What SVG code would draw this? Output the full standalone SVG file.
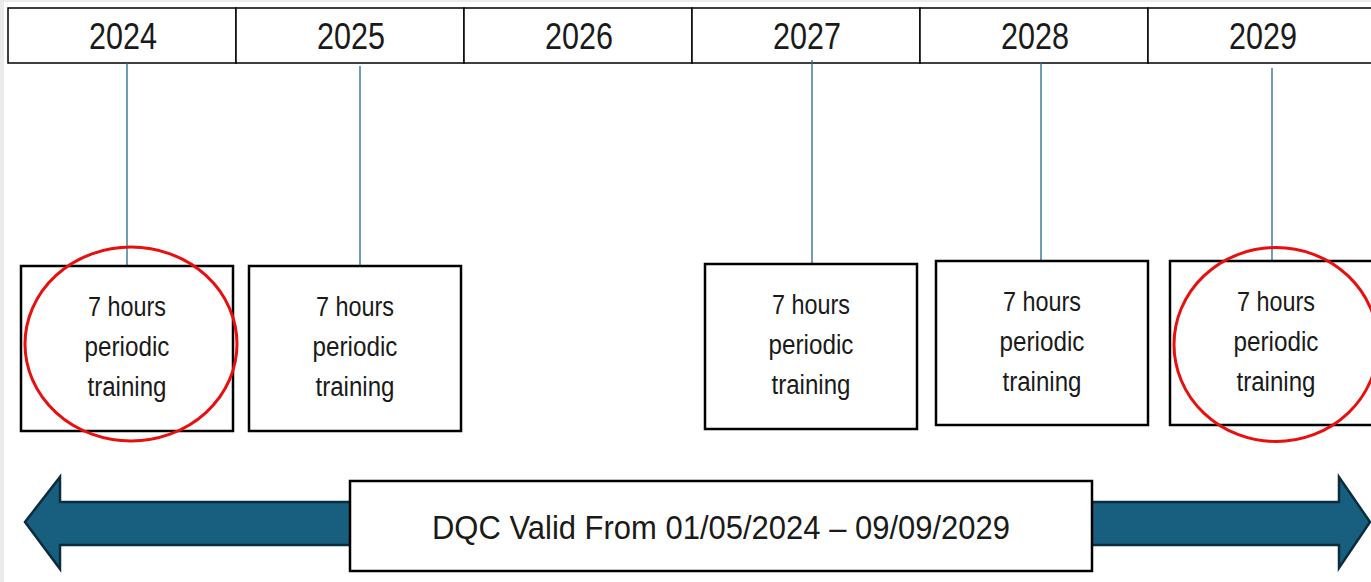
<svg xmlns="http://www.w3.org/2000/svg" width="1371" height="582" viewBox="0 0 1371 582">
<style>
.yr{font-family:"Liberation Sans",Arial,sans-serif;font-size:37px;fill:#1a1a1a;text-anchor:middle}
.bx{fill:#fff;stroke:#000;stroke-width:2.5}
.bt{font-family:"Liberation Sans",Arial,sans-serif;font-size:27px;fill:#1a1a1a;text-anchor:middle}
.con{stroke:#1f6a94;stroke-width:1.3;fill:none}
.ring{fill:none;stroke:#e8100f;stroke-width:3}
.cell{fill:#fff;stroke:#000;stroke-width:1.5}
</style>
<rect x="0" y="0" width="1371" height="582" fill="#fff"/>
<rect x="0" y="0" width="4" height="582" fill="#ebebeb"/>
<rect x="4" y="0" width="1367" height="2" fill="#ececec"/>
<g id="timeline">
<rect class="cell" x="8" y="8" width="228" height="55"/>
<rect class="cell" x="236" y="8" width="228" height="55"/>
<rect class="cell" x="464" y="8" width="228" height="55"/>
<rect class="cell" x="692" y="8" width="228" height="55"/>
<rect class="cell" x="920" y="8" width="228" height="55"/>
<rect class="cell" x="1148" y="8" width="240" height="55"/>
<text class="yr" x="123" y="49" textLength="68" lengthAdjust="spacingAndGlyphs">2024</text>
<text class="yr" x="351" y="49" textLength="68" lengthAdjust="spacingAndGlyphs">2025</text>
<text class="yr" x="579" y="49" textLength="68" lengthAdjust="spacingAndGlyphs">2026</text>
<text class="yr" x="807" y="49" textLength="68" lengthAdjust="spacingAndGlyphs">2027</text>
<text class="yr" x="1035" y="49" textLength="68" lengthAdjust="spacingAndGlyphs">2028</text>
<text class="yr" x="1263" y="49" textLength="68" lengthAdjust="spacingAndGlyphs">2029</text>
</g>
<g id="connectors">
<line class="con" x1="127" y1="63" x2="127" y2="266"/>
<line class="con" x1="360" y1="66" x2="360" y2="266"/>
<line class="con" x1="812" y1="60" x2="812" y2="264"/>
<line class="con" x1="1041" y1="62" x2="1041" y2="261"/>
<line class="con" x1="1272" y1="68" x2="1272" y2="270"/>
</g>
<g id="box2024">
<rect class="bx" x="21" y="266" width="212" height="165"/>
<text class="bt" x="127" y="316" textLength="78" lengthAdjust="spacingAndGlyphs">7 hours</text>
<text class="bt" x="127" y="356" textLength="85" lengthAdjust="spacingAndGlyphs">periodic</text>
<text class="bt" x="127" y="396" textLength="79" lengthAdjust="spacingAndGlyphs">training</text>
</g>
<g id="box2025">
<rect class="bx" x="249" y="266" width="212" height="165"/>
<text class="bt" x="355" y="316" textLength="78" lengthAdjust="spacingAndGlyphs">7 hours</text>
<text class="bt" x="355" y="356" textLength="85" lengthAdjust="spacingAndGlyphs">periodic</text>
<text class="bt" x="355" y="396" textLength="79" lengthAdjust="spacingAndGlyphs">training</text>
</g>
<g id="box2027">
<rect class="bx" x="705" y="264" width="212" height="165"/>
<text class="bt" x="811" y="314" textLength="78" lengthAdjust="spacingAndGlyphs">7 hours</text>
<text class="bt" x="811" y="354" textLength="85" lengthAdjust="spacingAndGlyphs">periodic</text>
<text class="bt" x="811" y="394" textLength="79" lengthAdjust="spacingAndGlyphs">training</text>
</g>
<g id="box2028">
<rect class="bx" x="936" y="261" width="212" height="164"/>
<text class="bt" x="1042" y="311" textLength="78" lengthAdjust="spacingAndGlyphs">7 hours</text>
<text class="bt" x="1042" y="351" textLength="85" lengthAdjust="spacingAndGlyphs">periodic</text>
<text class="bt" x="1042" y="391" textLength="79" lengthAdjust="spacingAndGlyphs">training</text>
</g>
<g id="box2029">
<rect class="bx" x="1170" y="261" width="212" height="164"/>
<text class="bt" x="1276" y="311" textLength="78" lengthAdjust="spacingAndGlyphs">7 hours</text>
<text class="bt" x="1276" y="351" textLength="85" lengthAdjust="spacingAndGlyphs">periodic</text>
<text class="bt" x="1276" y="391" textLength="79" lengthAdjust="spacingAndGlyphs">training</text>
</g>
<g id="highlights">
<ellipse class="ring" cx="131" cy="344" rx="106" ry="97"/>
<ellipse class="ring" cx="1276" cy="344.5" rx="102" ry="97"/>
</g>
<g id="validity">
<path d="M25 522 L60 477 L60 502 L1339 502 L1339 477 L1370 522 L1339 568 L1339 545 L60 545 L60 569 Z" fill="#175e7f" stroke="#0b2c3d" stroke-width="2.5" stroke-linejoin="miter"/>
<rect x="350" y="481" width="742" height="90" fill="#fff" stroke="#000" stroke-width="2.5"/>
<text x="721" y="539" font-family="Liberation Sans,Arial,sans-serif" font-size="33" fill="#1a1a1a" text-anchor="middle" textLength="578" lengthAdjust="spacingAndGlyphs">DQC Valid From 01/05/2024 – 09/09/2029</text>
</g>
</svg>
